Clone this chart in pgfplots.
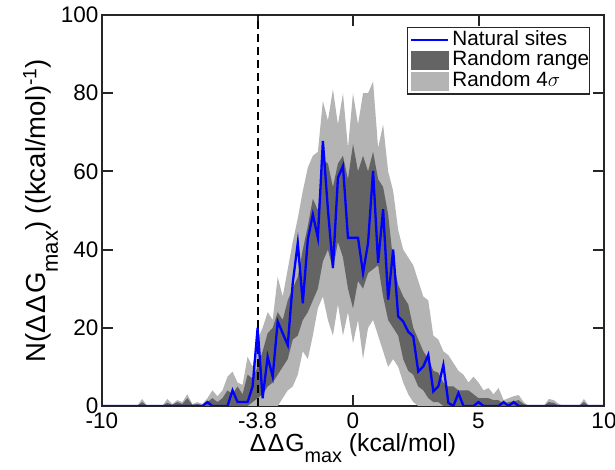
\documentclass[border=0pt]{standalone}
\usepackage{fontspec}
\setmainfont{Liberation Sans}
\usepackage{pgfplots}
\pgfplotsset{compat=1.18}
\usepgfplotslibrary{fillbetween}
\usepackage{pgfplotstable}
\definecolor{bandlight}{RGB}{180,180,180}
\definecolor{banddark}{RGB}{100,100,100}
\definecolor{axcol}{RGB}{38,38,38}
\newcommand{\lowsub}[1]{\raisebox{-0.45em}{\fontsize{0.8\dimexpr\fontdimen6\font\relax}{1em}\selectfont #1}}
\newcommand{\DD}{Δ\kern1.5ptΔ\kern1pt}

\pgfplotstableread{
x lL lD uD uL
-10.0 0 0 0 0
-8.6 0 0 0 0
-8.4 0 0 1 1.8
-8.2 0 0 0 0
-7.6 0 0 0 0
-7.4 0 0 0.8 1.8
-7.2 0 0 0.3 0.5
-7.0 0 0 1 1.5
-6.8 0 0 0.5 1
-6.6 0 0 2 3
-6.4 0 0 0.3 0.5
-6.2 0 0 0.5 1
-6.0 0 0 0.2 0.5
-5.8 0 0 1 2
-5.6 0 0 2 4
-5.4 0 0 1 2.5
-5.2 0 0 2 4
-5.0 0 0 4 7.5
-4.8 0 0 3 8.8
-4.6 0 0 5 6
-4.4 0 0 3 5.4
-4.2 0 0 8 12.6
-4.0 0 1 7 10
-3.8 0 2 10 17
-3.6 0 3 14 20
-3.4 0 5 18.6 24
-3.2 0 6 20 22
-3.0 0 8 24 33
-2.8 2 10 22 28
-2.6 4 12 27 35
-2.4 5 17 30 42
-2.2 8 18 33 48
-2.0 14 22 40 55
-1.8 12 24 46 61
-1.6 18 27 53 64
-1.4 25 30 50 65
-1.2 28 37 63 78
-1.0 22 40 62 73
-0.8 18 35 56 81
-0.6 26 42 62 72
-0.4 18 38 64 80
-0.2 24 30 58 66
0.0 16 25 67 80
0.2 22 32 60 72
0.4 12 30 64 80
0.6 20 34 60 80
0.8 22 35 65 83
1.0 18 36 58 66
1.2 14 28 56 72
1.4 10 22 49 60
1.6 12 20 37 55
1.8 10 18 31 45
2.0 6 12 28 40
2.2 3 9 26 38
2.4 1 8 20 36
2.6 0 5 17 32
2.8 0 4 14 28
3.0 0 2 12 27
3.2 0 1 9 18
3.4 0 1 8.5 17
3.6 0 0 6 14
3.8 0 0 5 13
4.0 0 0 5 11
4.2 0 0 4 9
4.4 0 0 4 8
4.6 0 0 4 6
4.8 0 0 3 7.5
5.0 0 0 2 6
5.2 0 0 2 4
5.4 0 0 2 4.6
5.6 0 0 1.5 3
5.8 0 0 1.5 4.6
6.0 0 0 0.5 1.5
6.2 0 0 1 2
6.4 0 0 1.2 2.5
6.6 0 0 1.5 2.8
6.8 0 0 0.5 1
7.0 0 0 0 0
7.6 0 0 0 0
7.8 0 0 1 1.8
8.0 0 0 0.8 1.5
8.2 0 0 0 0.5
8.4 0 0 0 0
9.0 0 0 0 0
9.2 0 0 1 1.8
9.4 0 0 0 0
10.0 0 0 0 0
}\bands

\pgfplotstableread{
x n
-10.0 0
-6.0 0
-5.8 1
-5.6 0
-5.0 0
-4.8 4
-4.6 1
-4.4 1
-4.2 1
-4.0 5
-3.8 20
-3.6 2
-3.4 12.6
-3.2 7.5
-3.0 21.6
-2.8 18.6
-2.6 15.6
-2.4 31.5
-2.2 41.7
-2.0 26.3
-1.8 42.6
-1.6 49
-1.4 43
-1.2 67.8
-1.0 50.3
-0.8 35.3
-0.6 58.4
-0.4 61.4
-0.2 43
0.0 43
0.2 43
0.4 34
0.6 41.7
0.8 60.1
1.0 36.6
1.2 50.3
1.4 27.2
1.6 40
1.8 22.9
2.0 21.6
2.2 19
2.4 17.8
2.6 8.8
2.8 10.1
3.0 13.1
3.2 3.7
3.4 5
3.6 10.5
3.8 0.8
4.0 0
4.2 3.3
4.4 0
4.8 0
5.0 1
5.2 0
5.8 0
6.0 1
6.2 0
6.4 1
6.6 0
10.0 0
}\natural

\begin{document}
\begin{tikzpicture}
\begin{axis}[
  scale only axis, width=502pt, height=391pt,
  xmin=-10, xmax=10, ymin=0, ymax=100,
  xtick={-10,-3.8,0,5,10}, xticklabels={-10,-3.8,0,5,10},
  ytick={0,20,40,60,80,100}, yticklabels={0,20,40,60,80,100},
  tick align=inside, major tick length=11pt,
  axis line style={axcol, line width=2pt},
  every tick/.style={axcol, line width=2pt},
  tick label style={font=\fontsize{22.5}{27}\selectfont, text=black},
  xticklabel style={yshift=-3pt},
  xlabel style={font=\fontsize{24.75}{30}\selectfont, yshift=2pt},
  ylabel style={font=\fontsize{27.5}{32}\selectfont},
  ylabel shift=-4pt,
  xlabel={\DD G\lowsub{max} (kcal/mol)},
  ylabel={N(\DD G\lowsub{max}) ((kcal/mol)\textsuperscript{-1})},
  legend cell align=left,
  legend style={at={(rel axis cs:1,1)}, anchor=north east, xshift=-14pt, yshift=-12pt,
    draw=axcol, line width=1.5pt, font=\fontsize{20.7}{24}\selectfont,
    inner xsep=0pt, inner ysep=3.5pt, row sep=2.5pt,
    nodes={inner sep=0pt, text height=14pt, text depth=3.5pt},
    /tikz/every odd column/.append style={column sep=3pt},
    /tikz/every even column/.append style={column sep=3pt}},
]
\addlegendimage{legend image code/.code={\path (-3pt,0pt); \draw[blue, line width=2pt] (0pt,0pt) -- (37pt,0pt);}}
\addlegendimage{legend image code/.code={\path (-3pt,0pt); \fill[banddark] (0pt,-8.5pt) rectangle (37pt,8.5pt);}}
\addlegendimage{legend image code/.code={\path (-3pt,0pt); \fill[bandlight] (0pt,-8.5pt) rectangle (37pt,8.5pt);}}

\addplot[draw=none, name path=uL, forget plot] table[x=x,y=uL]{\bands};
\addplot[draw=none, name path=lL, forget plot] table[x=x,y=lL]{\bands};
\addplot[bandlight, forget plot] fill between[of=uL and lL];
\addplot[draw=none, name path=uD, forget plot] table[x=x,y=uD]{\bands};
\addplot[draw=none, name path=lD, forget plot] table[x=x,y=lD]{\bands};
\addplot[banddark, forget plot] fill between[of=uD and lD];
\addplot[black, line width=1.8pt, dash pattern=on 8pt off 5pt, forget plot] coordinates {(-3.8,0) (-3.8,100)};
\addplot[blue, line width=2.3pt, forget plot] table[x=x,y=n]{\natural};
\legend{Natural sites, Random range, Random 4$\sigma$}
\end{axis}
\pgfresetboundingbox
\path[use as bounding box] ([shift={(-102pt,-64pt)}]current axis.south west) rectangle ([shift={(11pt,15pt)}]current axis.north east);
\end{tikzpicture}
\end{document}
